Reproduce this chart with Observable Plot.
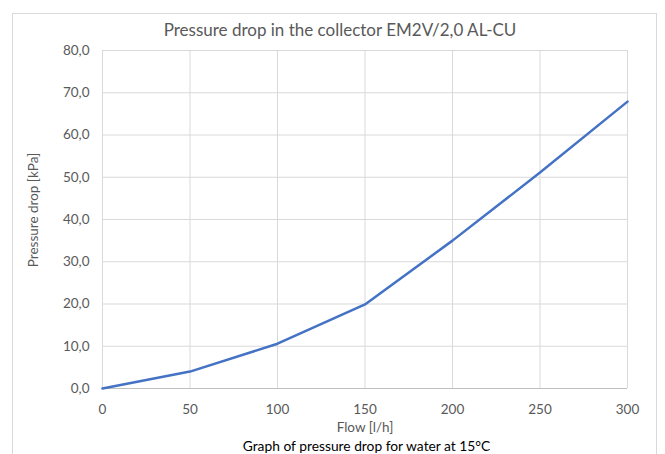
<!DOCTYPE html>
<html><head><meta charset="utf-8">
<script src="https://cdn.jsdelivr.net/npm/d3@7"></script>
<script src="https://cdn.jsdelivr.net/npm/@observablehq/plot@0.6"></script>
<style>
html,body{margin:0;padding:0;background:#fff;}
#wrap{position:relative;width:665px;height:454px;overflow:hidden;font-family:Lato,"Open Sans",sans-serif;}
#frame{position:absolute;left:12px;top:13px;width:645px;height:460px;border:1px solid #d9d9d9;box-sizing:border-box;}
.t{position:absolute;white-space:nowrap;color:#595959;}
#title{left:0;width:680px;top:19px;text-align:center;font-size:17px;}
#xlab{left:0;width:730px;top:419px;text-align:center;font-size:13.5px;}
#cap{left:0;width:733px;top:437px;text-align:center;font-size:13.8px;color:#000;}
#ylab{left:33px;top:210px;font-size:13.5px;transform:translate(-50%,-50%) rotate(-90deg);}
#chart{position:absolute;left:0;top:0;}
</style></head>
<body><div id="wrap">
<div id="frame"></div>
<div id="chart"></div>
<div class="t" id="title">Pressure drop in the collector EM2V/2,0 AL-CU</div>
<div class="t" id="ylab">Pressure drop [kPa]</div>
<div class="t" id="xlab">Flow [l/h]</div>
<div class="t" id="cap">Graph of pressure drop for water at 15°C</div>
</div>
<script>
const flow = [0, 50, 100, 150, 200, 250, 300];
const pressure = [0.0, 4.0, 10.6, 19.9, 35.0, 51.1, 67.9];
const xTicks = [0, 50, 100, 150, 200, 250, 300];
const yTicks = [0, 10, 20, 30, 40, 50, 60, 70, 80];
const data = flow.map((f, i) => ({flow: f, p: pressure[i]}));
const fmt = v => v.toFixed(1).replace(".", ",");
const plot = Plot.plot({
  width: 665, height: 454,
  marginLeft: 102, marginRight: 38, marginTop: 50, marginBottom: 66,
  style: {fontFamily: "Lato, 'Open Sans', sans-serif", fontSize: "13.5px", color: "#595959", background: "transparent"},
  x: {domain: [0, 300], ticks: xTicks, label: null, tickSize: 0, tickPadding: 16},
  y: {domain: [0, 80], ticks: yTicks, label: null, tickSize: 0, tickPadding: 13, tickFormat: fmt},
  marks: [
    Plot.gridX(xTicks, {stroke: "#d9d9d9", strokeOpacity: 1, strokeWidth: 1}),
    Plot.gridY(yTicks, {stroke: "#d9d9d9", strokeOpacity: 1, strokeWidth: 1}),
    Plot.ruleY([0], {stroke: "#bfbfbf", strokeWidth: 1}),
    Plot.line(data, {x: "flow", y: "p", stroke: "#4472c4", strokeWidth: 2.5}),
    Plot.axisX({ticks: xTicks, tickSize: 0, tickPadding: 16, fill: "#595959", label: null}),
    Plot.axisY({ticks: yTicks, tickSize: 0, tickPadding: 13, tickFormat: fmt, fill: "#595959", label: null})
  ]
});
document.getElementById("chart").appendChild(plot);
</script>
</body></html>
